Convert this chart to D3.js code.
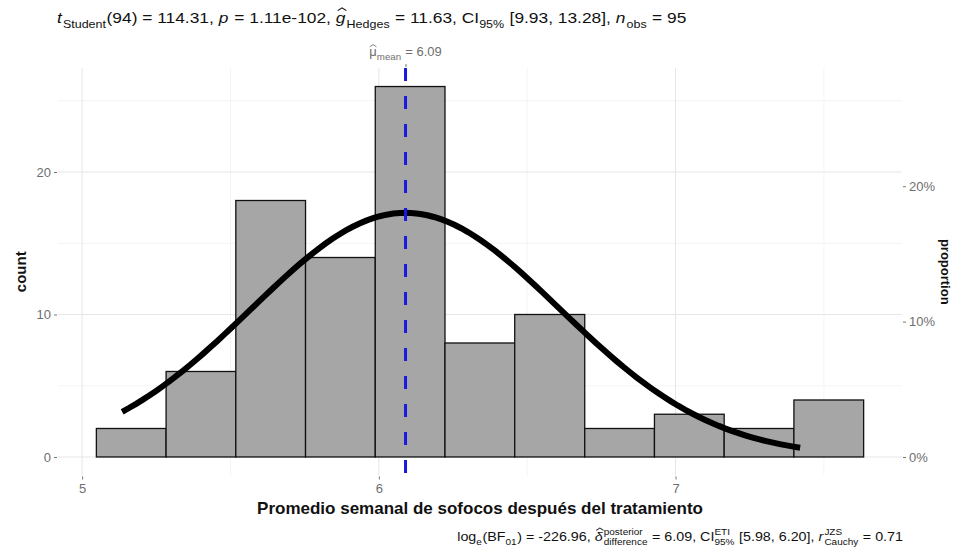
<!DOCTYPE html>
<html>
<head>
<meta charset="utf-8">
<script src="https://cdn.jsdelivr.net/npm/d3@7/dist/d3.min.js"></script>
<style>
  html, body { margin: 0; padding: 0; background: #fff; }
  svg { display: block; font-family: "Liberation Sans", Arial, sans-serif; }
</style>
</head>
<body>
<svg id="chart" width="956" height="556"></svg>
<script>
// Histogram of weekly hot-flash averages after treatment
const binEdges = [5.048, 5.283, 5.518, 5.753, 5.988, 6.223, 6.458, 6.694, 6.929, 7.164, 7.399, 7.634];
const counts = [2, 6, 18, 14, 26, 8, 10, 2, 3, 2, 4];
const nObs = 95;
const sampleMean = 6.09;
const sampleSd = 0.52;
const dataRange = [5.135, 7.42];
const xTicks = [5, 6, 7];
const yTicks = [0, 10, 20];
const propTicks = [0, 0.1, 0.2];
const propLabels = ["0%", "10%", "20%"];

const svg = d3.select("#chart");
const panel = { left: 58, right: 902, top: 68, bottom: 475.5 };

const xMin = binEdges[0], xMax = binEdges[binEdges.length - 1];
const xPad = (xMax - xMin) * 0.05;
const x = d3.scaleLinear().domain([xMin - xPad, xMax + xPad]).range([panel.left, panel.right]);
const yMaxCount = d3.max(counts);
const y = d3.scaleLinear().domain([-yMaxCount * 0.05, yMaxCount * 1.05]).range([panel.bottom, panel.top]);

const grid = svg.append("g");
// minor grid
[5.5, 6.5, 7.5].forEach(v => grid.append("line")
  .attr("x1", x(v)).attr("x2", x(v)).attr("y1", panel.top).attr("y2", panel.bottom)
  .attr("stroke", "#f1f1f1").attr("stroke-width", 0.8));
[5, 15, 25].forEach(v => grid.append("line")
  .attr("x1", panel.left).attr("x2", panel.right).attr("y1", y(v)).attr("y2", y(v))
  .attr("stroke", "#f1f1f1").attr("stroke-width", 0.8));
// major grid
xTicks.forEach(v => grid.append("line")
  .attr("x1", x(v)).attr("x2", x(v)).attr("y1", panel.top).attr("y2", panel.bottom)
  .attr("stroke", "#e6e6e6").attr("stroke-width", 1));
yTicks.forEach(v => grid.append("line")
  .attr("x1", panel.left).attr("x2", panel.right).attr("y1", y(v)).attr("y2", y(v))
  .attr("stroke", "#e6e6e6").attr("stroke-width", 1));

// bars
const bins = counts.map((c, i) => ({ x0: binEdges[i], x1: binEdges[i + 1], count: c }));
svg.append("g").selectAll("rect").data(bins).join("rect")
  .attr("x", d => x(d.x0))
  .attr("width", d => x(d.x1) - x(d.x0))
  .attr("y", d => y(d.count))
  .attr("height", d => y(0) - y(d.count))
  .attr("fill", "#a6a6a6")
  .attr("stroke", "#111")
  .attr("stroke-width", 1.3);

// fitted normal curve scaled to counts
const binWidth = (xMax - xMin) / counts.length;
const dens = v => nObs * binWidth * Math.exp(-0.5 * ((v - sampleMean) / sampleSd) ** 2) / (sampleSd * Math.sqrt(2 * Math.PI));
const curvePts = d3.range(0, 101).map(i => {
  const v = dataRange[0] + (dataRange[1] - dataRange[0]) * i / 100;
  return [v, dens(v)];
});
svg.append("path")
  .datum(curvePts)
  .attr("d", d3.line().x(d => x(d[0])).y(d => y(d[1])))
  .attr("fill", "none")
  .attr("stroke", "#000")
  .attr("stroke-width", 6)
  .attr("stroke-linecap", "butt");

// mean line
svg.append("line")
  .attr("x1", x(sampleMean)).attr("x2", x(sampleMean))
  .attr("y1", panel.top).attr("y2", panel.bottom)
  .attr("stroke", "#1a1adf")
  .attr("stroke-width", 3)
  .attr("stroke-dasharray", "13,15");

// axes
const tickCol = "#777";
const axisText = "#6e6e6e";
const xAxis = d3.axisBottom(x).tickValues(xTicks).tickSize(3).tickPadding(4).tickFormat(d3.format("d"));
const gx = svg.append("g").attr("transform", `translate(0,${panel.bottom + 1})`).call(xAxis);
const yAxis = d3.axisLeft(y).tickValues(yTicks).tickSize(3).tickPadding(3);
const gy = svg.append("g").attr("transform", `translate(${panel.left - 1},0)`).call(yAxis);
const yRight = d3.axisRight(y).tickValues(propTicks.map(p => p * nObs)).tickSize(3).tickPadding(3)
  .tickFormat((d, i) => propLabels[i]);
const gr = svg.append("g").attr("transform", `translate(${panel.right + 1},0)`).call(yRight);
// top secondary axis showing the mean
const xTop = d3.axisTop(x).tickValues([sampleMean]).tickSize(3).tickFormat(() => "");
const gt = svg.append("g").attr("transform", `translate(0,${panel.top - 1})`).call(xTop);
[gx, gy, gr, gt].forEach(g => {
  g.select(".domain").remove();
  g.selectAll(".tick line").attr("stroke", tickCol).attr("stroke-width", 1);
  g.selectAll(".tick text").attr("fill", axisText).attr("font-size", 13)
    .attr("font-family", "Liberation Sans, Arial, sans-serif");
});

// rich text helper: pieces laid out left to right with sub/superscripts and hats
function richText(parent, px, py, pieces, size, anchor, color, sx, subRatio) {
  const outer = parent.append("g");
  const g = outer.append("g");
  let cx = 0;
  const small = size * (subRatio || 0.72);
  pieces.forEach(p => {
    if (p.sub !== undefined || p.sup !== undefined) {
      let w = 0;
      if (p.sub !== undefined) {
        const t = g.append("text").attr("x", cx).attr("y", size * 0.3)
          .attr("font-size", small).attr("fill", color).text(p.sub);
        w = Math.max(w, t.node().getComputedTextLength());
      }
      if (p.sup !== undefined) {
        const t = g.append("text").attr("x", cx).attr("y", -size * 0.45)
          .attr("font-size", small).attr("fill", color).text(p.sup);
        w = Math.max(w, t.node().getComputedTextLength());
      }
      cx += w + 0.5;
    } else {
      const t = g.append("text").attr("x", cx).attr("y", 0)
        .attr("font-size", size).attr("fill", color)
        .attr("font-style", p.it ? "italic" : "normal")
        .attr("xml:space", "preserve")
        .style("white-space", "pre")
        .text(p.t);
      const w = t.node().getComputedTextLength();
      if (p.hat) {
        // circumflex drawn over the glyph
        const hx = cx + w / 2 + (p.it ? size * 0.08 : 0);
        const top = -size * (p.hatTop || 0.9);
        g.append("path")
          .attr("d", `M${hx - w * 0.45},${top + size * 0.18} L${hx},${top} L${hx + w * 0.45},${top + size * 0.18}`)
          .attr("fill", "none").attr("stroke", color).attr("stroke-width", size * 0.07);
      }
      cx += w + (p.it ? 1 : 0);
    }
  });
  let ox = px;
  const total = cx * (sx || 1);
  if (anchor === "end") ox = px - total;
  else if (anchor === "middle") ox = px - total / 2;
  outer.attr("transform", `translate(${ox},${py})`);
  g.attr("transform", `scale(${sx || 1},1)`);
  return outer;
}

// title
richText(svg, 57, 23, [
  { t: "t", it: true }, { sub: "Student" }, { t: "(94) = 114.31, " },
  { t: "p", it: true }, { t: " = 1.11e-102, " },
  { t: "g", it: true, hat: true, hatTop: 0.98 }, { sub: "Hedges" }, { t: " = 11.63, CI" }, { sub: "95%" },
  { t: " [9.93, 13.28], " }, { t: "n", it: true }, { sub: "obs" }, { t: " = 95" }
], 15.5, "start", "#111", 1.12, 0.72);

// caption
richText(svg, 903, 541, [
  { t: "log" }, { sub: "e" }, { t: "(BF" }, { sub: "01" }, { t: ") = -226.96, " },
  { t: "δ", it: true, hat: true, hatTop: 1.0 }, { sub: "difference", sup: "posterior" }, { t: " = 6.09, CI" },
  { sub: "95%", sup: "ETI" }, { t: " [5.98, 6.20], " },
  { t: "r", it: true }, { sub: "Cauchy", sup: "JZS" }, { t: " = 0.71" }
], 13, "end", "#111", 1.1, 0.7);

// mean label above the panel
richText(svg, x(sampleMean), 56, [
  { t: "μ", hat: true, hatTop: 0.95 }, { sub: "mean" }, { t: " = 6.09" }
], 12, "middle", "#6e6e6e", 1.08, 0.75);

// axis titles
svg.append("text")
  .attr("x", (panel.left + panel.right) / 2).attr("y", 514)
  .attr("text-anchor", "middle").attr("font-size", 17).attr("font-weight", "bold")
  .attr("fill", "#111")
  .text("Promedio semanal de sofocos después del tratamiento");
svg.append("text")
  .attr("transform", `translate(26,${(panel.top + panel.bottom) / 2}) rotate(-90)`)
  .attr("text-anchor", "middle").attr("font-size", 15).attr("font-weight", "bold")
  .attr("fill", "#111").text("count");
svg.append("text")
  .attr("transform", `translate(941,${(panel.top + panel.bottom) / 2}) rotate(90)`)
  .attr("text-anchor", "middle").attr("font-size", 13).attr("font-weight", "bold")
  .attr("fill", "#111").text("proportion");
</script>
</body>
</html>
